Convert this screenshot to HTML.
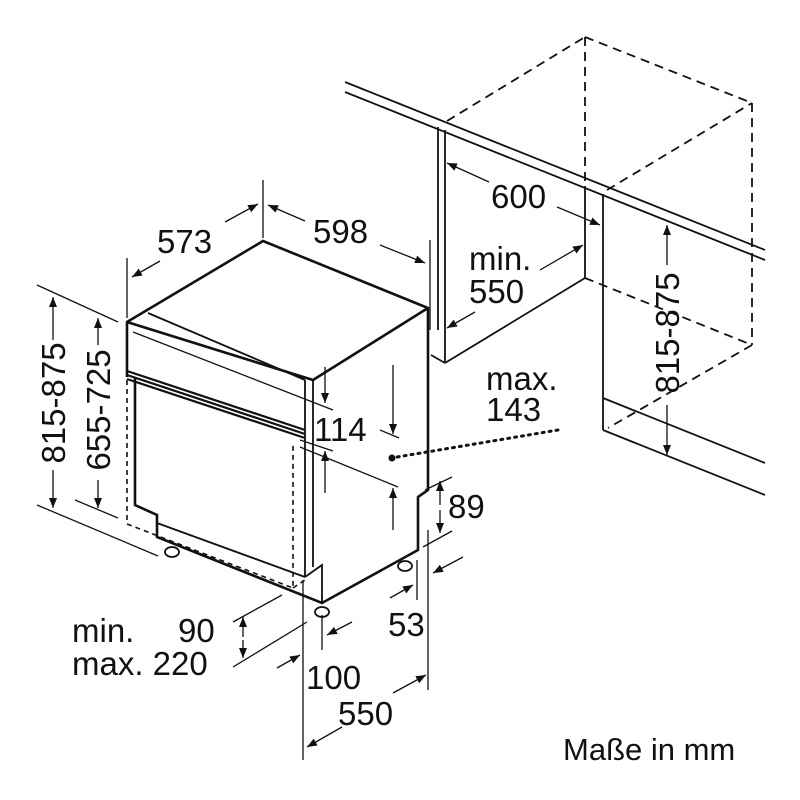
<!DOCTYPE html>
<html><head><meta charset="utf-8"><style>
html,body{margin:0;padding:0;background:#fff}
svg{display:block}
text{font-family:"Liberation Sans",Arial,sans-serif;font-size:33px;fill:#111}
</style></head><body>
<svg width="800" height="800" viewBox="0 0 800 800" xmlns="http://www.w3.org/2000/svg">
<defs>
<marker id="a" viewBox="0 0 10 10" refX="10" refY="5" markerWidth="10" markerHeight="10" orient="auto-start-reverse" markerUnits="userSpaceOnUse"><path d="M0,1 L10,5 L0,9 z" fill="#111"/></marker>
</defs>
<g stroke="#111" fill="none" stroke-width="1.8">
<line x1="345" y1="82" x2="765" y2="250"/>
<line x1="345" y1="92" x2="765" y2="260"/>
<line x1="438" y1="127" x2="438" y2="330"/>
<line x1="445" y1="130" x2="445" y2="363"/>
<line x1="431" y1="355" x2="445" y2="363"/>
<line x1="445" y1="363" x2="585" y2="278"/>
<line x1="585" y1="186" x2="585" y2="278"/>
<line x1="603" y1="194" x2="603" y2="398"/>
<line x1="603" y1="398" x2="765" y2="463"/>
<line x1="603" y1="398" x2="603" y2="430"/>
<line x1="603" y1="430" x2="765" y2="495"/>
<g stroke-dasharray="9,6">
<line x1="447" y1="121" x2="585" y2="37"/>
<line x1="585" y1="37" x2="752" y2="103"/>
<line x1="585" y1="37" x2="585" y2="186"/>
<line x1="752" y1="103" x2="752" y2="345"/>
<line x1="607" y1="190" x2="752" y2="103"/>
<line x1="585" y1="278" x2="752" y2="345"/>
<line x1="752" y1="345" x2="608" y2="428"/>
</g>
<g stroke-width="2.6">
<polyline points="127,377 127,322 263,241 428,308 428,490 418,497 418,550 322,603 157,537 157,515 135,505 135,378"/>
<line x1="127" y1="322" x2="313" y2="380"/>
<line x1="428" y1="308" x2="313" y2="380"/>
</g>
<line x1="148" y1="313" x2="305" y2="380"/>
<line x1="313" y1="380" x2="313" y2="567"/>
<line x1="305" y1="380" x2="305" y2="577"/>
<polyline points="305,577 322,565 322,603"/>
<line x1="157" y1="523" x2="305" y2="577"/>
<path d="M127,371 L305,430 M127,375 L305,434 M127,379 L305,438" stroke-width="2.2"/>
<g stroke-dasharray="5,4" stroke-width="1.6">
<polyline points="127,380 127,524 293,588 293,442"/>
<line x1="293" y1="588" x2="305" y2="580"/>
</g>
<ellipse cx="172" cy="552" rx="7" ry="5" fill="#fff"/>
<ellipse cx="322" cy="612" rx="7" ry="5" fill="#fff"/>
<ellipse cx="405" cy="566" rx="7" ry="5" fill="#fff"/>
<line x1="127" y1="258" x2="127" y2="318" stroke-width="1.3"/>
<line x1="263" y1="180" x2="263" y2="238" stroke-width="1.3"/>
<line x1="430" y1="240" x2="430" y2="330" stroke-width="1.3"/>
<g stroke-width="1.3">
<line x1="160" y1="261" x2="132" y2="277" marker-end="url(#a)"/>
<line x1="225" y1="222" x2="258" y2="204" marker-end="url(#a)"/>
<line x1="305" y1="221" x2="268" y2="205" marker-end="url(#a)"/>
<line x1="380" y1="245" x2="425" y2="263" marker-end="url(#a)"/>
<line x1="489" y1="182" x2="447" y2="163" marker-end="url(#a)"/>
<line x1="557" y1="207" x2="600" y2="225" marker-end="url(#a)"/>
<line x1="540" y1="270" x2="583" y2="245" marker-end="url(#a)"/>
<line x1="475" y1="312" x2="447" y2="328" marker-end="url(#a)"/>
<line x1="667" y1="265" x2="667" y2="225" marker-end="url(#a)"/>
<line x1="667" y1="405" x2="667" y2="455" marker-end="url(#a)"/>
<line x1="37" y1="285" x2="118" y2="322"/>
<line x1="37" y1="505" x2="158" y2="556"/>
<line x1="75" y1="500" x2="118" y2="518"/>
<line x1="53" y1="340" x2="53" y2="297" marker-end="url(#a)"/>
<line x1="53" y1="470" x2="53" y2="508" marker-end="url(#a)"/>
<line x1="98" y1="345" x2="98" y2="318" marker-end="url(#a)"/>
<line x1="98" y1="480" x2="98" y2="508" marker-end="url(#a)"/>
<line x1="325" y1="367" x2="325" y2="403" marker-end="url(#a)"/>
<line x1="133" y1="332" x2="333" y2="410"/>
<line x1="325" y1="493" x2="325" y2="451" marker-end="url(#a)"/>
<line x1="300" y1="440" x2="333" y2="451"/>
<line x1="393" y1="365" x2="393" y2="434" marker-end="url(#a)"/>
<line x1="380" y1="430" x2="399" y2="438"/>
<line x1="393" y1="530" x2="393" y2="488" marker-end="url(#a)"/>
<line x1="300" y1="447" x2="398" y2="487"/>
<line x1="425" y1="490" x2="452" y2="477"/>
<line x1="423" y1="547" x2="452" y2="531"/>
<line x1="440" y1="505" x2="440" y2="481" marker-end="url(#a)"/>
<line x1="440" y1="510" x2="440" y2="533" marker-end="url(#a)"/>
<line x1="417" y1="560" x2="417" y2="600"/>
<line x1="428" y1="530" x2="428" y2="690"/>
<line x1="390" y1="598" x2="413" y2="585" marker-end="url(#a)"/>
<line x1="463" y1="557" x2="433" y2="573" marker-end="url(#a)"/>
<line x1="303" y1="580" x2="303" y2="760"/>
<line x1="322" y1="615" x2="322" y2="650"/>
<line x1="352" y1="622" x2="327" y2="635" marker-end="url(#a)"/>
<line x1="277" y1="668" x2="300" y2="655" marker-end="url(#a)"/>
<line x1="342" y1="727" x2="307" y2="747" marker-end="url(#a)"/>
<line x1="393" y1="693" x2="426" y2="675" marker-end="url(#a)"/>
<line x1="233" y1="622" x2="282" y2="595"/>
<line x1="233" y1="667" x2="307" y2="622"/>
<line x1="243" y1="637" x2="243" y2="617" marker-end="url(#a)"/>
<line x1="243" y1="640" x2="243" y2="658" marker-end="url(#a)"/>
</g>
<line x1="558" y1="430" x2="397" y2="457" stroke-dasharray="2,5" stroke-width="3" stroke-linecap="round"/>
</g>
<circle cx="392" cy="458" r="3.5" fill="#111"/>
<g>
<text x="157" y="253">573</text>
<text x="313" y="243">598</text>
<text x="491" y="208">600</text>
<text x="469" y="270">min.</text>
<text x="469" y="303">550</text>
<text x="486" y="390">max.</text>
<text x="486" y="421">143</text>
<text x="314" y="441">114</text>
<text x="448" y="518">89</text>
<text x="388" y="636">53</text>
<text x="306" y="689">100</text>
<text x="338" y="725">550</text>
<text x="72" y="642">min.</text>
<text x="178" y="642">90</text>
<text x="72" y="675">max. 220</text>
<text x="563" y="760" style="font-size:31px">Maße in mm</text>
<text transform="translate(65,403) rotate(-90)" text-anchor="middle">815-875</text>
<text transform="translate(110,410) rotate(-90)" text-anchor="middle">655-725</text>
<text transform="translate(679,333) rotate(-90)" text-anchor="middle">815-875</text>
</g>
</svg>
</body></html>
